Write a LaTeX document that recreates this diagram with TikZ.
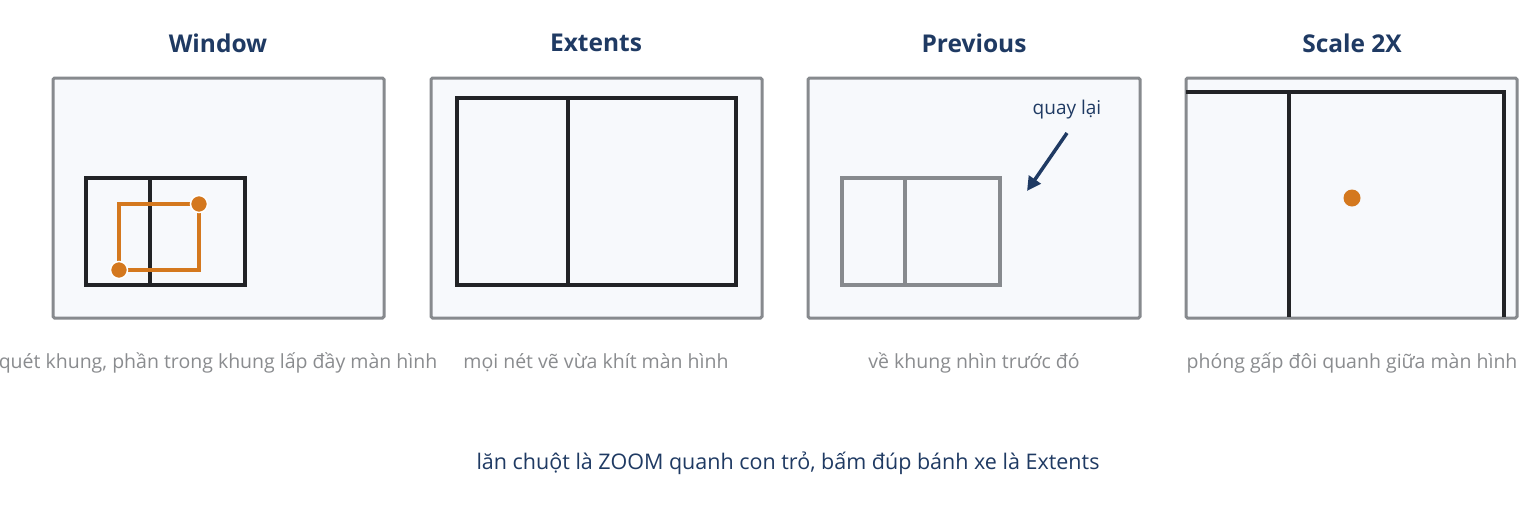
\documentclass[tikz,border=0pt]{standalone}
\usepackage{fontspec}
\setmainfont{Open Sans}
\usetikzlibrary{arrows.meta}
\definecolor{navy}{HTML}{1F3A63}
\definecolor{framegray}{HTML}{878A8E}
\definecolor{capgray}{HTML}{8A8C8F}
\definecolor{panelfill}{HTML}{F7F9FC}
\definecolor{ink}{HTML}{222326}
\definecolor{orangec}{HTML}{D4781E}
\tikzset{
  panel/.style={draw=framegray,fill=panelfill,line width=3pt,rounded corners=1.5pt},
  inkbox/.style={draw=ink,line width=4pt,line join=miter},
  graybox/.style={draw=framegray,line width=4pt},
  title/.style={font=\fontsize{24.5}{29}\selectfont\bfseries,text=navy,anchor=center},
  caption/.style={font=\fontsize{19.5}{23}\selectfont,text=capgray,anchor=center},
  orangeline/.style={draw=orangec,line width=4pt},
  dot/.style={circle,fill=orangec,draw=white,line width=1.5pt,inner sep=0pt,minimum size=17pt}
}
\begin{document}
\begin{tikzpicture}[x=1pt,y=-1pt]
\useasboundingbox[fill=white] (0,0) rectangle (1520,507);
% titles
\node[title] (t1) at (218,43) {Window};
\node[title] (t2) at (596,43) {Extents};
\node[title] (t3) at (974,43) {Previous};
\node[title] (t4) at (1352,43) {Scale 2X};
% panel 1
\draw[panel] (53,78) rectangle (384,318);
\draw[inkbox] (86,178) rectangle (245,285);
\draw[inkbox,line width=3.5pt] (150,178) -- (150,285);
\draw[orangeline] (119,204) rectangle (199,270);
\node[dot] (d1) at (199,204) {};
\node[dot] (d2) at (119,270) {};
% panel 2
\draw[panel] (431,78) rectangle (762,318);
\draw[inkbox] (457,98) rectangle (736,285);
\draw[inkbox,line width=3.5pt] (568,98) -- (568,285);
% panel 3
\draw[panel] (808,78) rectangle (1140,318);
\draw[graybox] (842,178) rectangle (1000,285);
\draw[graybox,line width=4pt] (905,178) -- (905,285);
\node[font=\fontsize{19}{23}\selectfont,text=navy] (q) at (1067,110) {quay lại};
\coordinate (qs) at (1067,133);
\coordinate (qe) at (1027,191);
\draw[navy,line width=3.5pt,-{Triangle[length=14pt,width=14pt]}] (qs) -- (qe);
% panel 4
\draw[panel] (1186,78) rectangle (1517,318);
\draw[ink,line width=4pt] (1186,92) -- (1504,92) -- (1504,317);
\draw[ink,line width=4pt] (1289,92) -- (1289,317);
\node[dot,draw=none] (d3) at (1352,198) {};
% captions
\node[caption] (c1) at (218,363) {quét khung, phần trong khung lấp đầy màn hình};
\node[caption] (c2) at (596,363) {mọi nét vẽ vừa khít màn hình};
\node[caption] (c3) at (974,363) {về khung nhìn trước đó};
\node[caption] (c4) at (1352,363) {phóng gấp đôi quanh giữa màn hình};
\node[font=\fontsize{21.5}{26}\selectfont,text=navy] (foot) at (788,463) {lăn chuột là ZOOM quanh con trỏ, bấm đúp bánh xe là Extents};
\end{tikzpicture}
\end{document}
